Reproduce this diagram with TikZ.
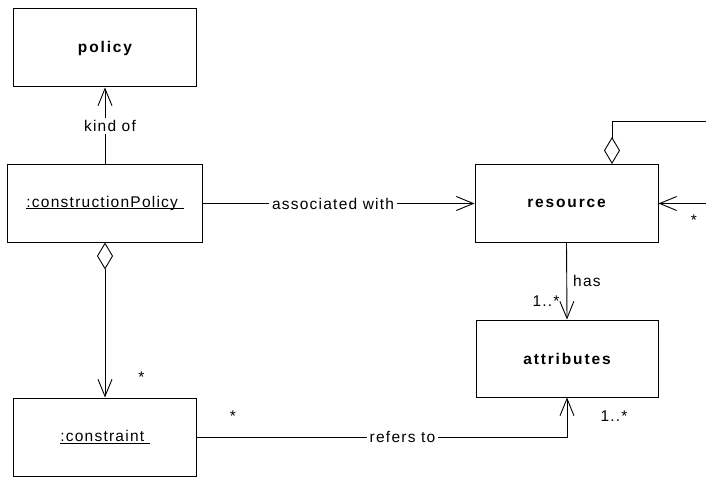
\documentclass[tikz,border=0pt]{standalone}
\usepackage{fontspec}
\setmainfont{Liberation Sans}[LetterSpace=8]
\usetikzlibrary{arrows.meta}
\newcommand\myul[1]{\setbox0\hbox{#1}\rlap{\rule[-1.6bp]{\wd0}{0.8bp}}\box0}
\newcommand\lfont{\fontsize{15.5bp}{18bp}\selectfont}
\tikzset{
  box/.style={draw, line width=1bp, minimum width=182bp, minimum height=78bp, inner sep=0pt},
  conn/.style={draw, line width=0.9bp},
  barb/.style={-{Straight Barb[length=17bp,width=14bp,line width=0.9bp]}},
  agg/.style={{Diamond[open,length=27bp,width=16bp,line width=0.9bp]}-},
  aggbarb/.style={{Diamond[open,length=27bp,width=16bp,line width=0.9bp]}-{Straight Barb[length=17bp,width=14bp,line width=0.9bp]}},
  lbl/.style={fill=white, inner xsep=3bp, inner ysep=2bp, font=\lfont},
  txt/.style={inner sep=0pt, font=\lfont},
  mult/.style={inner sep=0pt, anchor=base, font=\lfont},
  title/.style={font=\lfont\bfseries\addfontfeature{LetterSpace=12}}
}
\begin{document}
\begin{tikzpicture}[x=1bp, y=-1bp]
\useasboundingbox (0,0) rectangle (706,477);
\node[box, title] (policy) at (105,48) {policy};
\node[box, minimum width=194bp, minimum height=77bp, font=\lfont] (cp) at (105,203.5) {\myul{:constructionPolicy\ }};
\node[box, title, minimum width=183bp] (resource) at (566.5,203.5) {resource};
\node[box, title, minimum height=77bp] (attributes) at (567,358.5) {attributes};
\node[box, font=\lfont] (constraint) at (105,437) {\myul{:constraint\ }};

\coordinate (rt) at (706,121);
\coordinate (rr) at (706,203.5);

% kind of
\draw[conn, barb] (cp.north) -- node[lbl, xshift=5bp] {kind of} (policy.south);
% associated with
\draw[conn, barb] (cp.east) -- node[lbl, pos=0.48] {associated with} (resource.west);
% composition
\draw[conn, aggbarb] (cp.south) -- (constraint.north);
% has
\draw[conn, barb] (resource.south) -- (attributes.north);
% refers to
\draw[conn, barb] (constraint.east) -| node[lbl, pos=0.278] {refers to} (attributes.south);
% right side self association
\draw[conn, agg] ([xshift=45.5bp]resource.north) |- (rt);
\draw[conn, barb] (rr) -- (resource.east);

% multiplicities and labels
\node[txt, anchor=base west] (has) at (573,286) {has};
\node[mult] (m1) at (546,306) {1..*};
\node[mult] (m2) at (614,421.5) {1..*};
\node[mult] (s1) at (141.5,382) {*};
\node[mult] (s2) at (233,421) {*};
\node[mult] (s3) at (694,226) {*};
\end{tikzpicture}
\end{document}
